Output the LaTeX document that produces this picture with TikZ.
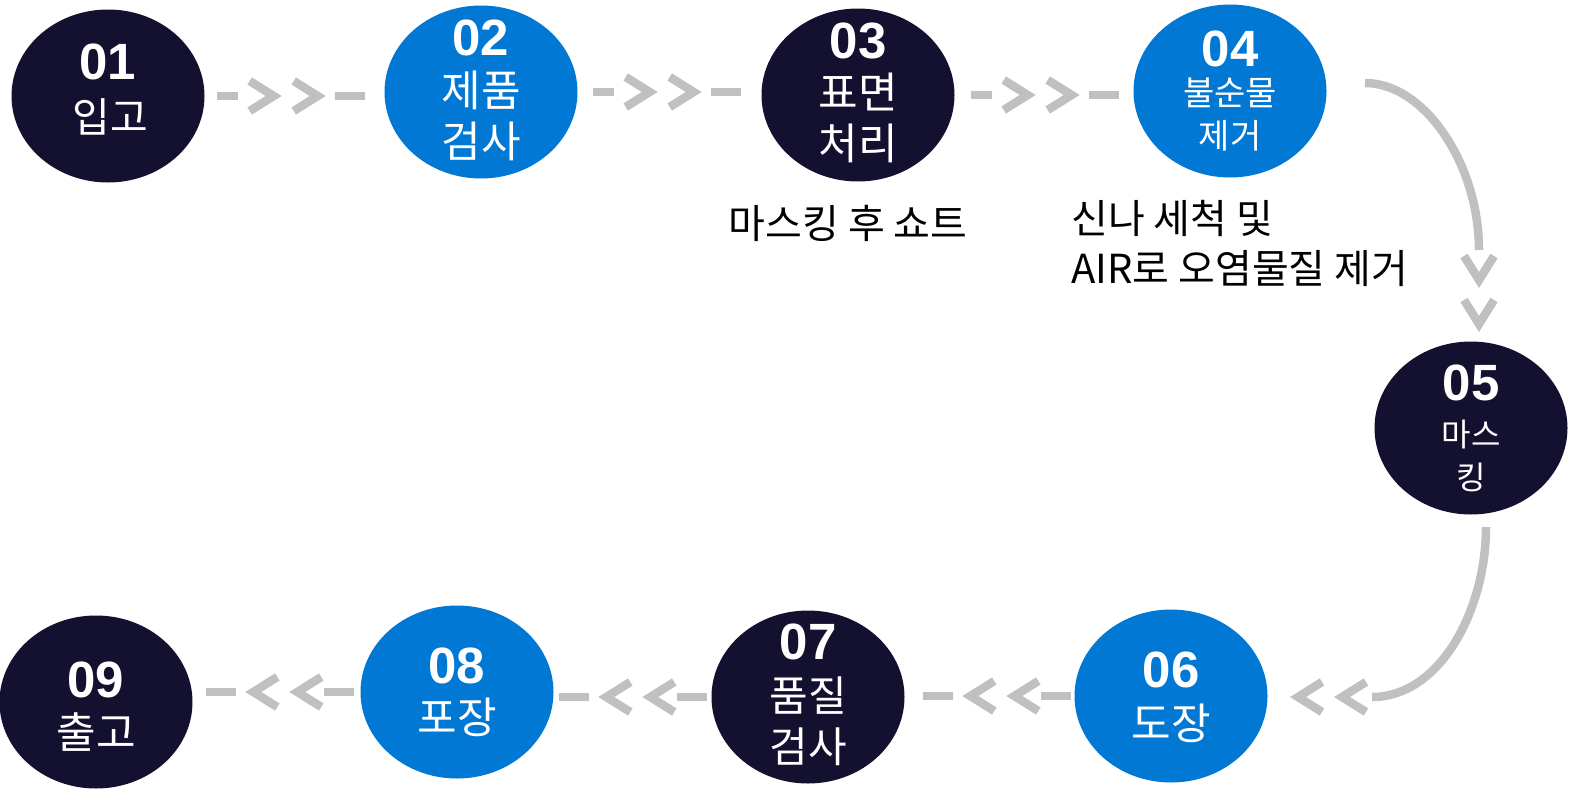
\documentclass[tikz,border=0pt]{standalone}
\usepackage{fontspec}
\setmainfont{Liberation Sans}
\newfontfamily\krfont{Noto Sans CJK KR}
\usetikzlibrary{shapes.geometric,decorations.markings}

\definecolor{stepdark}{RGB}{19,16,48}
\definecolor{stepblue}{RGB}{0,120,212}
\definecolor{linkgray}{RGB}{192,192,192}

\newcommand{\chevron}{\draw[link] (0pt,15pt) -- (24pt,0pt) -- (0pt,-15pt);}

\tikzset{
  stepbase/.style={ellipse, minimum width=193pt, minimum height=173pt, inner sep=0pt},
  darkstep/.style={stepbase, fill=stepdark},
  bluestep/.style={stepbase, fill=stepblue},
  num/.style={text=white, inner sep=0pt, font=\bfseries\fontsize{51}{51}\selectfont},
  lbl/.style 2 args={text=white, align=center, inner sep=0pt, font=\krfont\fontsize{#1}{#2}\selectfont},
  note/.style={text=black, inner sep=0pt, font=\krfont\fontsize{40}{50}\selectfont},
  link/.style={draw=linkgray, line width=8.5pt},
  flow/.style 2 args={postaction={decorate, decoration={markings,
      mark=at position #1 with {\draw[link] (0pt,0pt) -- (#2,0pt);},
      mark=at position #1+33pt with {\chevron},
      mark=at position #1+77pt with {\chevron},
      mark=at position #1+118pt with {\draw[link] (0pt,0pt) -- (30pt,0pt);}}}},
  twochev/.style={postaction={decorate, decoration={markings,
      mark=at position 6pt with {\chevron},
      mark=at position 50pt with {\chevron}}}}
}

\begin{document}
\begin{tikzpicture}[x=1pt,y=-1pt]
\useasboundingbox (0,0) rectangle (1569,795);

% steps
\node[darkstep] (s01) at (108,96) {};
\node[bluestep] (s02) at (481,92) {};
\node[darkstep] (s03) at (858,95) {};
\node[bluestep] (s04) at (1230,91) {};
\node[darkstep] (s05) at (1471,428) {};
\node[bluestep] (s06) at (1171,696) {};
\node[darkstep] (s07) at (808,697) {};
\node[bluestep] (s08) at (457,692) {};
\node[darkstep] (s09) at (96,702) {};

% numbers
\node[num] (n01) at (108,62) {01};
\node[num] (n02) at (481,38) {02};
\node[num] (n03) at (858,41) {03};
\node[num] (n04) at (1230,49) {04};
\node[num] (n05) at (1471,383) {05};
\node[num] (n06) at (1171,670) {06};
\node[num] (n07) at (808,642) {07};
\node[num] (n08) at (457,666) {08};
\node[num] (n09) at (96,680) {09};

% names
\node[lbl={41}{48}] (l01) at (110,117) {입고};
\node[lbl={43}{51}] (l02) at (481,116) {제품\\검사};
\node[lbl={43}{51}] (l03) at (858,118) {표면\\처리};
\node[lbl={34}{43}] (l04) at (1230,115) {불순물\\제거};
\node[lbl={32}{43}] (l05) at (1471,456) {마스\\킹};
\node[lbl={43}{51}] (l06) at (1171,723) {도장};
\node[lbl={42}{51}] (l07) at (808,721) {품질\\검사};
\node[lbl={43}{51}] (l08) at (457,717) {포장};
\node[lbl={43}{51}] (l09) at (96,732) {출고};

% notes
\node[note] (a03) at (848,223) {마스킹 후 쇼트};
\node[note, align=left, anchor=west] (a04) at (1071,243) {신나 세척 및\\AIR로 오염물질 제거};

% connectors
\path[flow={12pt}{21pt}] (s01.east) -- (s01.east -| s02.west);
\path[flow={15pt}{21pt}] (s02.east) -- (s02.east -| s03.west);
\path[flow={16pt}{21pt}] (s03.east) -- (s03.east -| s04.west);

\coordinate (k04) at (1365,83);
\coordinate (k05) at (1479,250);
\draw[link] (k04) .. controls (1425,83) and (1479,165) .. (k05);
\path[twochev] (k05) -- (k05 |- s05.north);

\coordinate (k05b) at (1486,527);
\coordinate (k06) at (1372,697);
\draw[link] (k05b) .. controls (1486,610) and (1440,697) .. (k06);
\path[twochev] (k06) -- (k06 -| s06.east);

\path[flow={3pt}{30pt}] (s06.west) -- (s06.west -| s07.east);
\path[flow={4pt}{30pt}] (s07.west) -- (s07.west -| s08.east);
\path[flow={6pt}{30pt}] (s08.west) -- (s08.west -| s09.east);
\end{tikzpicture}
\end{document}
